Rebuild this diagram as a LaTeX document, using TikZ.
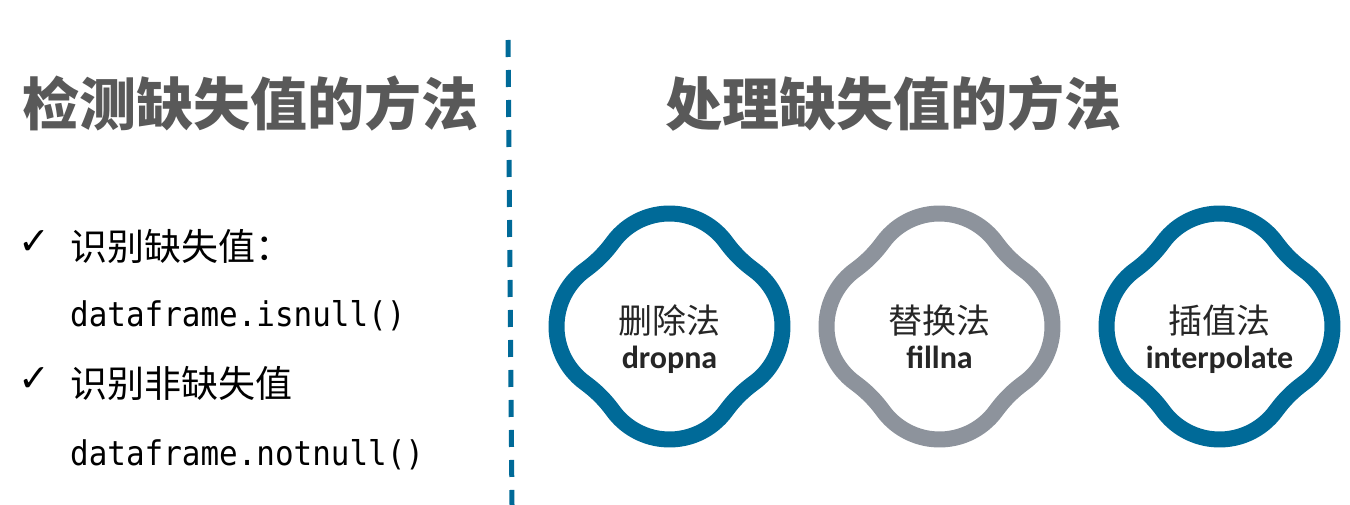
\documentclass[tikz,border=0pt]{standalone}
\usepackage{fontspec}
\newfontfamily\cjk{Noto Sans CJK SC}
\newfontfamily\monof{DejaVu Sans Mono}[FakeStretch=0.91]
\newfontfamily\calib{Carlito}
\newfontfamily\symf{DejaVu Sans}
\definecolor{mblue}{RGB}{0,106,152}
\definecolor{mgray}{RGB}{141,147,156}
\definecolor{ttl}{RGB}{89,89,89}
\definecolor{shtxt}{RGB}{38,38,38}
\tikzset{
  quatre/.pic={
    \path[line width=16pt, pic actions]
      (56.65,84.1) arc[start angle=35.96,end angle=144.04,radius=70]
      arc[start angle=-35.96,end angle=-54.04,radius=123.5]
      arc[start angle=125.96,end angle=234.04,radius=70]
      arc[start angle=54.04,end angle=35.96,radius=123.5]
      arc[start angle=215.96,end angle=324.04,radius=70]
      arc[start angle=144.04,end angle=125.96,radius=123.5]
      arc[start angle=-54.04,end angle=54.04,radius=70]
      arc[start angle=234.04,end angle=215.96,radius=123.5]
      -- cycle;
  },
  titletext/.style={text=ttl, anchor=base west, inner sep=0pt,
    font=\cjk\bfseries\fontsize{57}{60}\selectfont},
  chk/.style={text=black, inner sep=0pt, font=\symf\fontsize{38}{38}\selectfont},
  bul/.style={text=black, anchor=base west, inner sep=0pt,
    font=\cjk\fontsize{37}{40}\selectfont},
  code/.style={text=black, anchor=base west, inner sep=0pt,
    font=\monof\fontsize{34}{36}\selectfont},
  shcjk/.style={text=shtxt, anchor=base, inner sep=0pt,
    font=\cjk\fontsize{34}{36}\selectfont},
  shlat/.style={text=shtxt, anchor=base, inner sep=0pt,
    font=\calib\bfseries\fontsize{32}{34}\selectfont},
  divider/.style={draw=mblue, line width=5pt, dash pattern=on 17pt off 13pt},
}
\begin{document}
\begin{tikzpicture}[x=1pt,y=-1pt]
\path[fill=white,use as bounding box] (0,0) rectangle (1350,505);

% titles
\node[titletext] (t1) at (22,126) {检测缺失值的方法};
\node[titletext] (t2) at (665,126) {处理缺失值的方法};

% divider
\coordinate (dtop) at (508,40);
\coordinate (dbot) at (512,505);
\draw[divider] (dtop) -- (dbot);

% left list
\node[chk] (c1) at (34,243) {✓};
\node[bul] (b1) at (70,260.5) {识别缺失值：};
\node[code] (m1) at (70,326) {dataframe.isnull()};
\node[chk] (c2) at (34,379.5) {✓};
\node[bul] (b2) at (70,397.5) {识别非缺失值};
\node[code] (m2) at (70,465) {dataframe.notnull()};

% shapes
\pic[draw=mblue] at (669.5,326.5) {quatre};
\pic[draw=mgray] at (939.5,326.5) {quatre};
\pic[draw=mblue] at (1219.5,326.5) {quatre};

\node[shcjk] (s1a) at (669.5,333) {删除法};
\node[shlat] (s1b) at (669.5,368) {dropna};
\node[shcjk] (s2a) at (939.5,333) {替换法};
\node[shlat] (s2b) at (939.5,368) {fillna};
\node[shcjk] (s3a) at (1219.5,333) {插值法};
\node[shlat] (s3b) at (1219.5,368) {interpolate};
\end{tikzpicture}
\end{document}
